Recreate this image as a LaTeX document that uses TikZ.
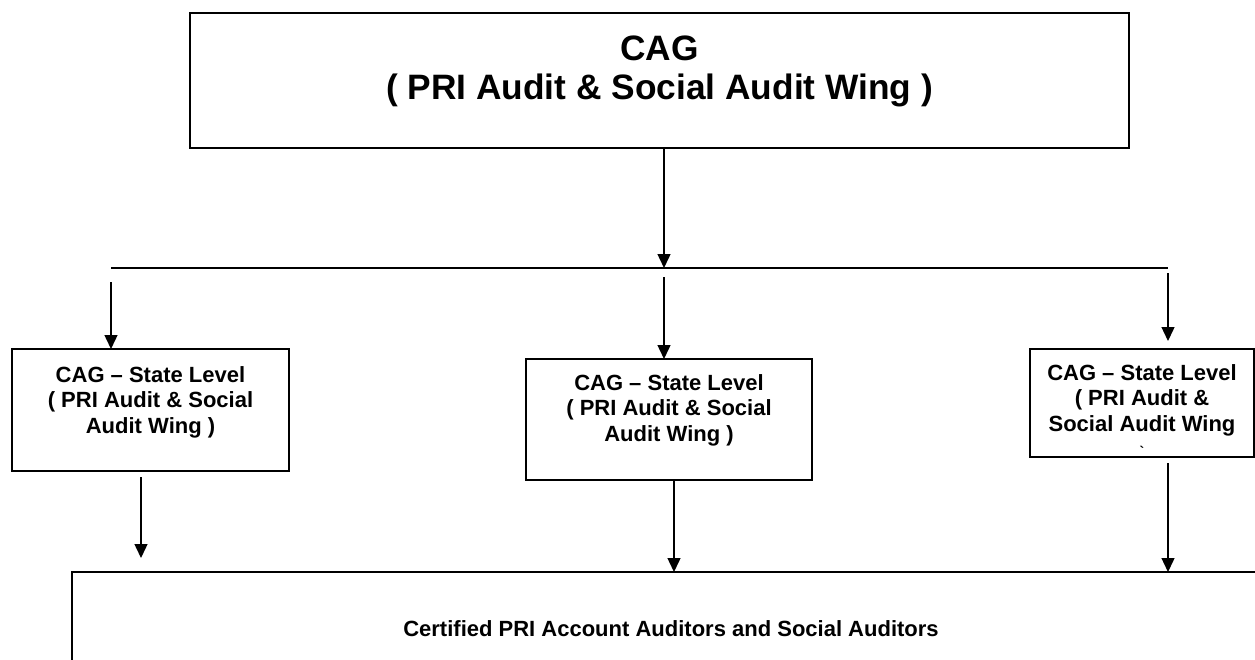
\documentclass[tikz,border=0pt]{standalone}
\usepackage{fontspec}
\setmainfont{Liberation Sans}
\usetikzlibrary{arrows.meta}

\begin{document}
\begin{tikzpicture}[x=1pt, y=-1pt, >={Triangle[width=13pt,length=14pt]},
	wing/.style={draw, line width=2pt, anchor=north west, align=center,
		inner ysep=0pt, outer sep=0pt,
		font=\bfseries\fontsize{22}{25.5}\selectfont},
	link/.style={->, line width=1.4pt}]
	\useasboundingbox (0,0) rectangle (1255,659);
	\clip (0,0) rectangle (1255,659);
	% boxes
	\node (cag) [wing, minimum width=939pt, text height=86pt, text depth=49pt,
		font=\bfseries\fontsize{35.3}{39}\selectfont] at (190,13)
		{CAG\\( PRI Audit \& Social Audit Wing )};
	\node (stateL) [wing, minimum width=277pt, text height=84pt, text depth=38pt]
		at (12,349) {CAG -- State Level\\( PRI Audit \& Social\\Audit Wing )};
	\node (stateM) [wing, minimum width=286pt, text height=82pt, text depth=39pt]
		at (526,359) {CAG -- State Level\\( PRI Audit \& Social\\Audit Wing )};
	\node (stateR) [wing, minimum width=224pt, text height=107.5pt, text depth=0.5pt]
		at (1030,349) {CAG -- State Level\\( PRI Audit \&\\Social Audit Wing\\
		{\fontsize{14}{14}\selectfont\textasciigrave}};
	\node (auditors) [wing, minimum width=1198pt, text height=64pt, text depth=70pt]
		at (72,572) {Certified PRI Account Auditors and Social Auditors};
	% connector ends
	\coordinate (split) at (664,268);
	\coordinate (busL) at (111,268);
	\coordinate (busR) at (1168,268);
	\coordinate (dropL) at (111,282);
	\coordinate (dropM) at (664,277);
	\coordinate (dropR) at (1168,273);
	\coordinate (tipR) at (1168,341);
	\coordinate (outL) at (141,477);
	\coordinate (tipL) at (141,558);
	\coordinate (outM) at (674,480);
	\coordinate (outR) at (1168,463);
	% connectors
	\draw[link] (split |- cag.south) -- (split);
	\draw[line width=1.4pt] (busL) -- (busR);
	\draw[link] (dropL) -- (dropL |- stateL.north);
	\draw[link] (dropM) -- (dropM |- stateM.north);
	\draw[link] (dropR) -- (tipR);
	\draw[link] (outL) -- (tipL);
	\draw[link] (outM |- stateM.south) -- (outM |- auditors.north);
	\draw[link] (outR) -- (outR |- auditors.north);
\end{tikzpicture}
\end{document}
